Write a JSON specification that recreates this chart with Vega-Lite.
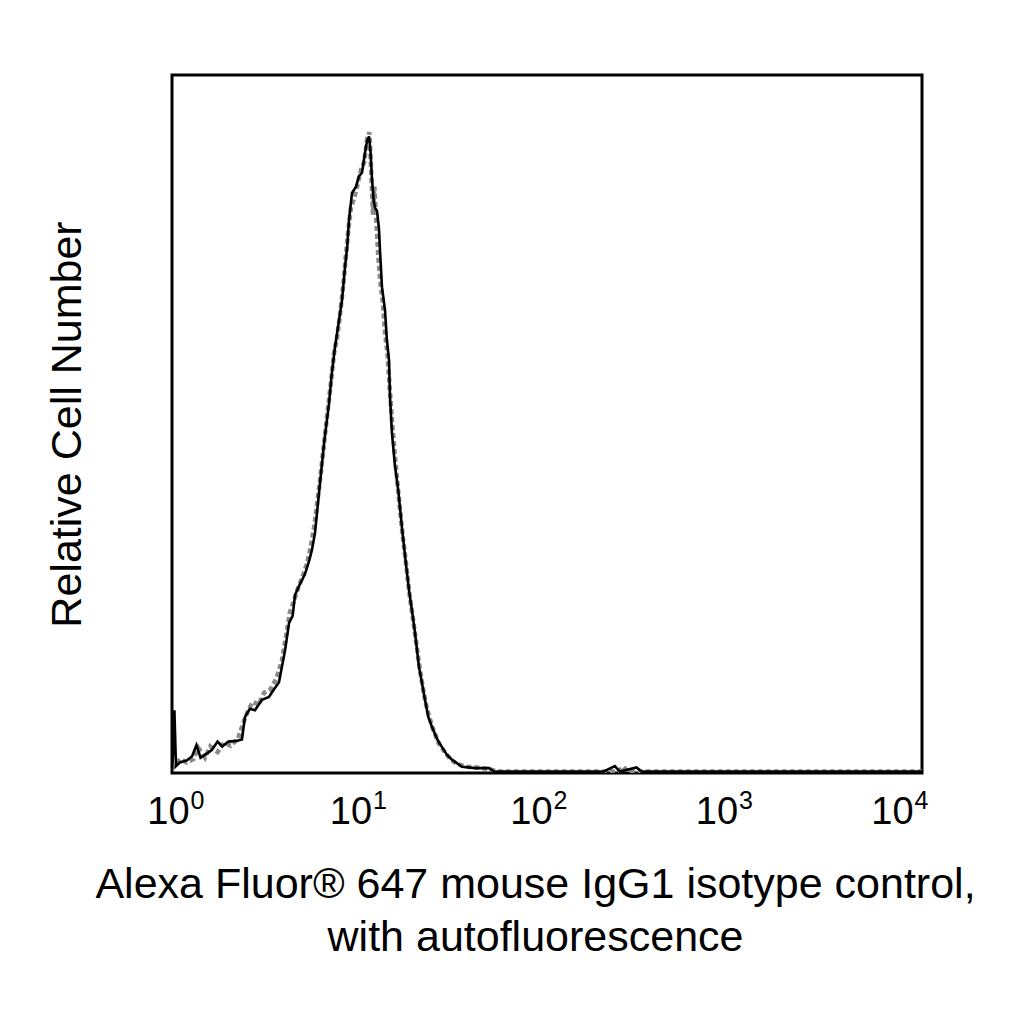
{
  "$schema": "https://vega.github.io/schema/vega-lite/v6.json",
  "autosize": "none",
  "padding": {"left": 172, "top": 75, "right": 102, "bottom": 251},
  "width": 750,
  "height": 698,
  "background": "white",
  "config": {
    "font": "Liberation Sans",
    "view": {"stroke": "black", "strokeWidth": 3}
  },
  "datasets": {
    "black": [
      {"x": 1.0, "y": 0.5}, {"x": 1.02, "y": 4.0}, {"x": 1.03, "y": 9.0}, {"x": 1.05, "y": 1.0},
      {"x": 1.1, "y": 1.5}, {"x": 1.2, "y": 1.8}, {"x": 1.28, "y": 2.4}, {"x": 1.35, "y": 4.0},
      {"x": 1.42, "y": 2.2}, {"x": 1.5, "y": 2.6}, {"x": 1.63, "y": 3.3}, {"x": 1.75, "y": 4.5},
      {"x": 1.85, "y": 3.8}, {"x": 2.0, "y": 4.5}, {"x": 2.2, "y": 4.6}, {"x": 2.36, "y": 4.8},
      {"x": 2.45, "y": 8.0}, {"x": 2.6, "y": 9.2}, {"x": 2.77, "y": 9.0}, {"x": 3.02, "y": 10.5},
      {"x": 3.29, "y": 10.9}, {"x": 3.5, "y": 12.0}, {"x": 3.72, "y": 13.0}, {"x": 4.01, "y": 17.6},
      {"x": 4.21, "y": 21.5}, {"x": 4.4, "y": 22.5}, {"x": 4.53, "y": 25.5}, {"x": 4.8, "y": 27.0},
      {"x": 5.12, "y": 28.5}, {"x": 5.4, "y": 30.5}, {"x": 5.58, "y": 32.0}, {"x": 5.79, "y": 34.4},
      {"x": 6.08, "y": 40.1}, {"x": 6.31, "y": 44.4}, {"x": 6.5, "y": 47.7}, {"x": 6.88, "y": 53.0},
      {"x": 7.1, "y": 57.0}, {"x": 7.4, "y": 61.0}, {"x": 7.78, "y": 64.9}, {"x": 8.07, "y": 67.8},
      {"x": 8.37, "y": 72.5}, {"x": 8.6, "y": 75.4}, {"x": 8.79, "y": 79.2}, {"x": 9.12, "y": 83.1},
      {"x": 9.58, "y": 84.0}, {"x": 9.94, "y": 85.5}, {"x": 10.31, "y": 86.0}, {"x": 10.69, "y": 88.8},
      {"x": 10.96, "y": 90.5}, {"x": 11.24, "y": 91.2}, {"x": 11.45, "y": 89.0}, {"x": 11.66, "y": 85.0},
      {"x": 11.9, "y": 82.0}, {"x": 12.1, "y": 81.0}, {"x": 12.4, "y": 80.5}, {"x": 12.7, "y": 78.0},
      {"x": 12.86, "y": 74.9}, {"x": 13.18, "y": 69.6}, {"x": 13.68, "y": 66.3}, {"x": 14.0, "y": 62.0},
      {"x": 14.36, "y": 59.2}, {"x": 14.54, "y": 54.0}, {"x": 14.9, "y": 48.7}, {"x": 15.46, "y": 44.0},
      {"x": 16.1, "y": 40.5}, {"x": 16.86, "y": 35.0}, {"x": 17.6, "y": 30.5}, {"x": 18.36, "y": 26.2},
      {"x": 19.0, "y": 23.5}, {"x": 19.77, "y": 20.1}, {"x": 20.76, "y": 15.2}, {"x": 21.5, "y": 13.0},
      {"x": 22.35, "y": 10.5}, {"x": 23.3, "y": 8.0}, {"x": 24.36, "y": 6.6}, {"x": 26.0, "y": 4.8},
      {"x": 27.54, "y": 3.7}, {"x": 29.3, "y": 2.6}, {"x": 31.13, "y": 1.9}, {"x": 35.21, "y": 0.9},
      {"x": 41.3, "y": 0.7}, {"x": 49.1, "y": 0.7}, {"x": 52.0, "y": 0.2}, {"x": 200.0, "y": 0.2},
      {"x": 230.0, "y": 1.0}, {"x": 245.0, "y": 0.2}, {"x": 300.0, "y": 0.8}, {"x": 320.0, "y": 0.2},
      {"x": 10000.0, "y": 0.2}
    ],
    "gray": [
      {"x": 1.0, "y": 0.5}, {"x": 1.04, "y": 1.2}, {"x": 1.1, "y": 2.0}, {"x": 1.2, "y": 1.5},
      {"x": 1.3, "y": 2.0}, {"x": 1.38, "y": 3.6}, {"x": 1.5, "y": 2.2}, {"x": 1.6, "y": 3.8},
      {"x": 1.75, "y": 3.0}, {"x": 1.9, "y": 4.4}, {"x": 2.05, "y": 3.9}, {"x": 2.25, "y": 4.9},
      {"x": 2.4, "y": 7.2}, {"x": 2.55, "y": 9.0}, {"x": 2.7, "y": 10.2}, {"x": 2.9, "y": 9.8},
      {"x": 3.1, "y": 11.5}, {"x": 3.35, "y": 12.0}, {"x": 3.6, "y": 13.5}, {"x": 3.85, "y": 16.0},
      {"x": 4.05, "y": 19.5}, {"x": 4.25, "y": 23.0}, {"x": 4.45, "y": 24.5}, {"x": 4.7, "y": 26.5},
      {"x": 4.95, "y": 28.0}, {"x": 5.25, "y": 30.0}, {"x": 5.5, "y": 32.5}, {"x": 5.75, "y": 35.5},
      {"x": 6.0, "y": 39.5}, {"x": 6.25, "y": 43.5}, {"x": 6.55, "y": 48.5}, {"x": 6.8, "y": 52.5},
      {"x": 7.05, "y": 56.0}, {"x": 7.3, "y": 60.0}, {"x": 7.6, "y": 62.5}, {"x": 7.9, "y": 66.0},
      {"x": 8.2, "y": 70.0}, {"x": 8.45, "y": 74.0}, {"x": 8.7, "y": 77.5}, {"x": 9.0, "y": 81.0},
      {"x": 9.4, "y": 82.5}, {"x": 9.8, "y": 84.5}, {"x": 10.2, "y": 86.5}, {"x": 10.6, "y": 87.5},
      {"x": 11.0, "y": 91.0}, {"x": 11.3, "y": 91.8}, {"x": 11.55, "y": 86.0}, {"x": 11.8, "y": 80.0},
      {"x": 12.0, "y": 84.0}, {"x": 12.3, "y": 79.0}, {"x": 12.6, "y": 74.0}, {"x": 12.9, "y": 70.5},
      {"x": 13.3, "y": 67.5}, {"x": 13.7, "y": 63.0}, {"x": 14.1, "y": 60.0}, {"x": 14.5, "y": 55.0},
      {"x": 14.9, "y": 50.5}, {"x": 15.5, "y": 45.0}, {"x": 16.2, "y": 39.5}, {"x": 17.0, "y": 34.0},
      {"x": 17.8, "y": 29.5}, {"x": 18.5, "y": 25.5}, {"x": 19.3, "y": 22.0}, {"x": 20.1, "y": 18.5},
      {"x": 21.0, "y": 14.8}, {"x": 22.0, "y": 11.5}, {"x": 23.0, "y": 9.0}, {"x": 24.5, "y": 6.5},
      {"x": 26.5, "y": 4.2}, {"x": 28.5, "y": 3.0}, {"x": 30.5, "y": 2.0}, {"x": 33.0, "y": 1.3},
      {"x": 37.0, "y": 0.9}, {"x": 42.0, "y": 0.8}, {"x": 48.0, "y": 0.6}, {"x": 55.0, "y": 0.2},
      {"x": 240.0, "y": 0.2}, {"x": 255.0, "y": 0.9}, {"x": 270.0, "y": 0.2}, {"x": 10000.0, "y": 0.2}
    ]
  },
  "resolve": {"axis": {"x": "independent"}},
  "layer": [
    {
      "data": {"name": "gray"},
      "mark": {"type": "line", "color": "#8a8a8a", "strokeWidth": 4.5, "strokeDash": [5, 3], "clip": true},
      "encoding": {
        "x": {
          "field": "x",
          "type": "quantitative",
          "scale": {"type": "log", "domain": [1, 10000], "nice": false},
          "axis": {
            "orient": "bottom",
            "values": [1, 10, 100, 1000, 10000],
            "labelExpr": "'10'",
            "ticks": false,
            "domain": false,
            "grid": false,
            "labelFontSize": 38,
            "labelColor": "black",
            "labelPadding": 20,
            "labelOffset": {
              "condition": [
                {"test": "datum.value == 1", "value": -4},
                {"test": "datum.value == 10", "value": -9},
                {"test": "datum.value == 100", "value": -16},
                {"test": "datum.value == 1000", "value": -18}
              ],
              "value": -30
            },
            "labelFlush": false,
            "labelOverlap": false,
            "title": ["Alexa Fluor® 647 mouse IgG1 isotype control,", "with autofluorescence"],
            "titleFontSize": 43,
            "titleFontWeight": "normal",
            "titleColor": "black",
            "titlePadding": 32,
            "titleLineHeight": 53,
            "titleX": 363
          }
        },
        "y": {
          "field": "y",
          "type": "quantitative",
          "scale": {"domain": [0, 100], "nice": false},
          "axis": {
            "ticks": false,
            "labels": false,
            "domain": false,
            "grid": false,
            "title": "Relative Cell Number",
            "titleFontSize": 43,
            "titleFontWeight": "normal",
            "titleColor": "black",
            "titlePadding": 83
          }
        }
      }
    },
    {
      "data": {"name": "black"},
      "mark": {"type": "line", "color": "black", "strokeWidth": 2.6, "clip": true},
      "encoding": {
        "x": {
          "field": "x",
          "type": "quantitative",
          "axis": {
            "orient": "bottom",
            "values": [1, 10, 100, 1000, 10000],
            "labelExpr": "datum.value == 1 ? '0' : datum.value == 10 ? '1' : datum.value == 100 ? '2' : datum.value == 1000 ? '3' : '4'",
            "ticks": false,
            "domain": false,
            "grid": false,
            "labelFontSize": 25,
            "labelColor": "black",
            "labelPadding": 15,
            "labelAlign": "left",
            "labelOffset": {
              "condition": [
                {"test": "datum.value == 1", "value": 18},
                {"test": "datum.value == 10", "value": 13},
                {"test": "datum.value == 100", "value": 6},
                {"test": "datum.value == 1000", "value": 4}
              ],
              "value": -8
            },
            "labelFlush": false,
            "labelOverlap": false,
            "title": null
          }
        },
        "y": {"field": "y", "type": "quantitative"}
      }
    }
  ]
}
